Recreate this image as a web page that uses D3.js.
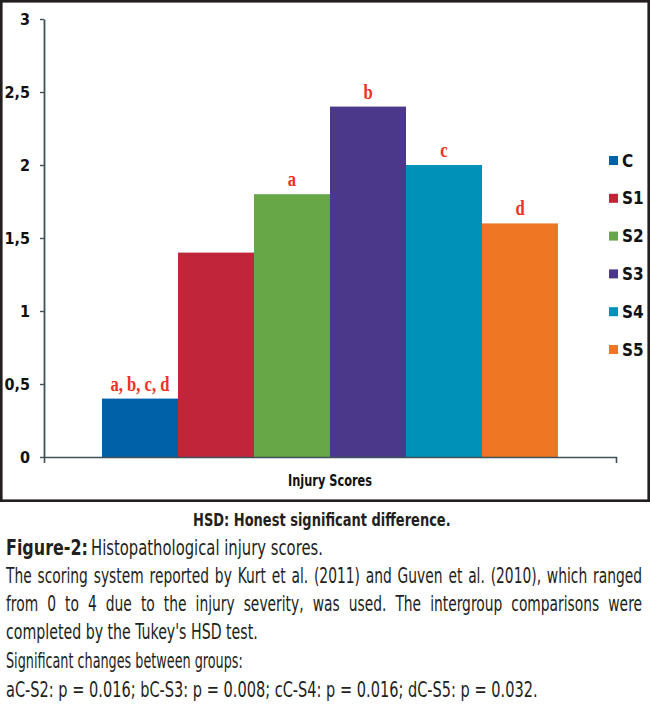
<!DOCTYPE html>
<html><head><meta charset="utf-8">
<script src="https://cdn.jsdelivr.net/npm/d3@7"></script>
<style>body{margin:0;background:#fff}svg{display:block}</style>
</head><body>
<svg id="c" width="650" height="713"></svg>
<script>
// ---- data ----
const categories = ["Injury Scores"];
const series = ["C", "S1", "S2", "S3", "S4", "S5"];
const values = [0.4, 1.4, 1.8, 2.4, 2.0, 1.6];
const sigLabels = ["a, b, c, d", "", "a", "b", "c", "d"];
const colors = ["#0060a8", "#c1253a", "#67a748", "#4b388a", "#0091b9", "#ef7622"];
const yTicks = [0, 0.5, 1, 1.5, 2, 2.5, 3];
const noteText = "HSD: Honest significant difference.";
const figLabel = "Figure-2:";
const figTitle = "Histopathological injury scores.";
const bodyLines = [
  "The scoring system reported by Kurt et al. (2011) and Guven et al. (2010), which ranged",
  "from 0 to 4 due to the injury severity, was used. The intergroup comparisons were",
  "completed by the Tukey's HSD test.",
  "Significant changes between groups:",
  "aC-S2: p = 0.016; bC-S3: p = 0.008; cC-S4: p = 0.016; dC-S5: p = 0.032."
];

// ---- layout ----
const svg = d3.select("#c");
const sans = "'Liberation Sans Narrow','DejaVu Sans Condensed','Liberation Sans',Arial,sans-serif";
const serif = "'Liberation Serif','Times New Roman',serif";
const axisColor = "#3f5159";
const textColor = "#231f20";
const labelRed = "#ee3224";

// frame
svg.append("rect").attr("x", 1.3).attr("y", 1.3).attr("width", 647.4).attr("height", 499.4)
  .attr("fill", "none").attr("stroke", "#231f20").attr("stroke-width", 2.6);

const x0 = d3.scaleBand().domain(categories).range([44, 616]).padding(0);
const x1 = d3.scaleBand().domain(series).range([0, x0.bandwidth()]).paddingInner(0).paddingOuter(0.763);
const y = d3.scaleLinear().domain([0, 3]).range([457, 19]);
const color = d3.scaleOrdinal().domain(series).range(colors);

const data = series.map((s, i) => ({ s, v: values[i], lab: sigLabels[i] }));

// bars
const gBars = svg.append("g").attr("transform", `translate(${x0(categories[0])},0)`);
gBars.selectAll("rect").data(data).join("rect")
  .attr("x", d => x1(d.s)).attr("width", x1.bandwidth())
  .attr("y", d => y(d.v)).attr("height", d => y(0) - y(d.v))
  .attr("fill", d => color(d.s));

// significance labels
gBars.selectAll("text.sig").data(data.filter(d => d.lab)).join("text")
  .attr("class", "sig")
  .attr("transform", d => `translate(${x1(d.s) + x1.bandwidth() / 2},${y(d.v) - 8}) scale(0.83,1)`)
  .attr("text-anchor", "middle")
  .attr("font-family", serif).attr("font-weight", "bold").attr("font-size", 20)
  .attr("fill", labelRed).text(d => d.lab);

// y axis
const yAxis = svg.append("g").attr("transform", "translate(44,0)")
  .call(d3.axisLeft(y).tickValues(yTicks).tickSize(4).tickSizeOuter(0).tickPadding(10)
    .tickFormat(d => String(d).replace(".", ",")));
yAxis.select(".domain").attr("stroke", axisColor).attr("stroke-width", 1.8);
yAxis.selectAll(".tick line").attr("stroke", axisColor).attr("stroke-width", 1.4);
yAxis.selectAll(".tick text").attr("font-family", sans).attr("font-weight", "bold")
  .attr("font-size", 16).attr("fill", "#111");

// x axis
const xAxis = svg.append("g").attr("transform", `translate(0,${y(0)})`)
  .call(d3.axisBottom(x0).tickSize(0).tickSizeOuter(6).tickPadding(18));
xAxis.select(".domain").attr("stroke", axisColor).attr("stroke-width", 1.6);
xAxis.selectAll(".tick text").attr("font-family", sans).attr("font-weight", "bold")
  .attr("font-size", 15.5).attr("fill", "#111")
  .attr("textLength", 84).attr("lengthAdjust", "spacingAndGlyphs");

// legend
const leg = svg.append("g").attr("transform", "translate(609,156)");
const li = leg.selectAll("g").data(series).join("g")
  .attr("transform", (d, i) => `translate(0,${i * 37.8})`);
li.append("rect").attr("width", 9).attr("height", 9).attr("fill", d => color(d));
li.append("text").attr("x", 13).attr("y", 10.5)
  .attr("font-family", sans).attr("font-weight", "bold").attr("font-size", 17)
  .attr("fill", "#111").text(d => d);

// ---- caption ----
function fitText(str, x, yb, target, size, weight, anchor) {
  const g = svg.append("g");
  const t = g.append("text").attr("font-family", sans).attr("font-size", size)
    .attr("font-weight", weight).attr("fill", textColor).text(str);
  const w = t.node().getComputedTextLength();
  const k = target / w;
  const xs = anchor === "middle" ? x - target / 2 : x;
  g.attr("transform", `translate(${xs},${yb}) scale(${k},1)`);
  return k;
}
function justifyText(str, x, yb, target, size, k) {
  const g = svg.append("g").attr("transform", `translate(${x},${yb}) scale(${k},1)`);
  const t = g.append("text").attr("font-family", sans).attr("font-size", size)
    .attr("fill", textColor).text(str);
  const w = t.node().getComputedTextLength();
  const n = (str.match(/ /g) || []).length;
  const ws = (target / k - w) / n;
  t.attr("word-spacing", ws);
}

fitText(noteText, 322, 526, 258, 17, "bold", "middle");
fitText(figLabel, 6, 555, 82, 21.5, "bold");
fitText(figTitle, 91, 555, 232, 21, "normal");
const bodyWidths = [null, null, 252, 237, 532];
const bodyBase = [583, 611, 639, 668, 697];
let ks = [];
[2, 3, 4].forEach(i => ks.push(fitText(bodyLines[i], 6, bodyBase[i], bodyWidths[i], 20.5, "normal")));
const kAvg = d3.mean(ks);
[0, 1].forEach(i => justifyText(bodyLines[i], 6, bodyBase[i], 636, 20.5, kAvg));
</script>
</body></html>
